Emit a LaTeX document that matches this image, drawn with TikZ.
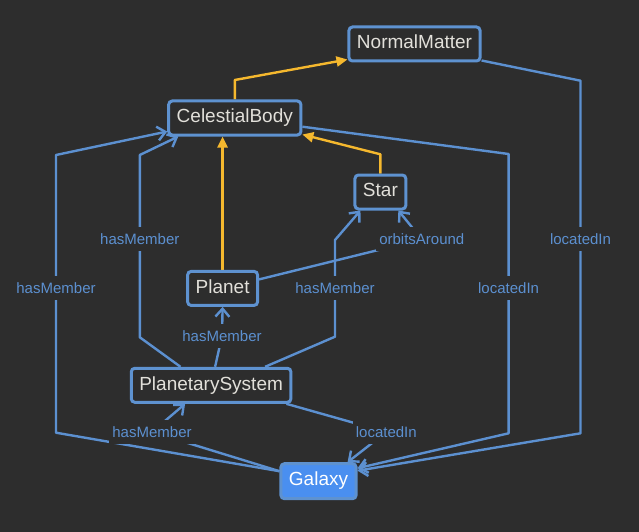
\documentclass[tikz,border=0pt]{standalone}
\usepackage{fontspec}
\setmainfont{Liberation Sans}
\usetikzlibrary{arrows.meta}
\definecolor{bgc}{HTML}{2D2D2D}
\definecolor{nodeblue}{HTML}{5E92D0}
\definecolor{edgeblue}{HTML}{5C90D0}
\definecolor{galfill}{HTML}{4A8FF0}
\definecolor{nodetext}{HTML}{E2E0DA}
\definecolor{yellowc}{HTML}{F5B82E}
\pgfdeclarelayer{back}
\pgfdeclarelayer{edges}
\pgfsetlayers{back,edges,main}
\begin{document}
\begin{tikzpicture}[x=1pt,y=-1pt,
  box/.style={draw=nodeblue, line width=3pt, rounded corners=3.5pt, fill=bgc,
    text=nodetext, font=\fontsize{19}{22}\selectfont, inner xsep=8pt, inner ysep=0pt,
    minimum height=34pt, text height=14pt, text depth=4.5pt},
  galbox/.style={box, fill=galfill, text=white, minimum height=35pt},
  lbl/.style={fill=bgc, text=edgeblue, font=\fontsize{15}{18}\selectfont,
    inner xsep=3pt, inner ysep=6.5pt, text height=11pt, text depth=0pt},
  link/.style={draw=edgeblue, line width=2.4pt, line join=round,
    -{Straight Barb[length=8pt,width=14pt]}},
  isa/.style={draw=yellowc, line width=2.4pt, line join=round,
    -{Triangle[length=11pt,width=10pt]}}
]
\begin{pgfonlayer}{back}
\fill[bgc] (0,0) rectangle (639,532);
\end{pgfonlayer}
\useasboundingbox (0,0) rectangle (639,532);

% class nodes
\node[box] (NM) at (414.5,44) {NormalMatter};
\node[box] (CB) at (234.8,118) {CelestialBody};
\node[box] (Star) at (380.4,192) {Star};
\node[box] (Planet) at (222.6,288.4) {Planet};
\node[box] (PS) at (211.1,385.3) {PlanetarySystem};
\node[galbox] (Gal) at (318.5,481.2) {Galaxy};

% edge labels
\node[lbl] (l1) at (56,288) {hasMember};
\node[lbl] (l2) at (139.8,239) {hasMember};
\node[lbl] (l3) at (421.8,239.3) {orbitsAround};
\node[lbl] (l4) at (580.5,239) {locatedIn};
\node[lbl] (l5) at (222,336) {hasMember};
\node[lbl] (l6) at (335,288) {hasMember};
\node[lbl] (l7) at (508.6,288) {locatedIn};
\node[lbl] (l8) at (152,432) {hasMember};
\node[lbl] (l9) at (386.3,432) {locatedIn};

\begin{pgfonlayer}{edges}
% subclass (yellow)
\draw[isa] (CB.north) -- (234.8,80) -- ([yshift=3pt]NM.south west);
\draw[isa] (Planet.north) -- (Planet.north |- CB.south);
\draw[isa] (Star.north) -- (380.4,154.3) -- ([yshift=2pt]CB.south east);

% relations (blue)
\draw[link] ([yshift=10pt]Gal.west) -- (56,432.7) -- (l1.center) -- (56,155) -- ([yshift=5pt]CB.south west);
\draw[link] ([xshift=-30.6pt]PS.north) -- (139.8,337.3) -- (l2.center) -- (139.8,155) -- ([xshift=-56.5pt]CB.south);
\draw[link] ([xshift=4pt]PS.north) -- (l5.center) -- (Planet.south);
\draw[link] ([xshift=54pt]PS.north) -- (335,336.7) -- (l6.center) -- (335,240) -- ([xshift=7pt]Star.south west);
\draw[link] ([yshift=9pt]Planet.east) -- (l3.center) -- ([xshift=-9pt]Star.south east);
\draw[link] ([yshift=2pt]NM.south east) -- (580.5,80.7) -- (l4.center) -- (580.5,433.3) -- ([yshift=10.5pt]Gal.east);
\draw[link] ([yshift=-8.7pt]CB.east) -- (508.6,154) -- (l7.center) -- (508.6,433.3) -- ([yshift=13pt]Gal.east);
\draw[link] ([xshift=-6pt]PS.south east) -- (l9.center) -- ([xshift=-10pt]Gal.north east);
\draw[link] ([yshift=10pt]Gal.west) -- (l8.center) -- ([xshift=-26pt]PS.south);
\end{pgfonlayer}
\end{tikzpicture}
\end{document}
